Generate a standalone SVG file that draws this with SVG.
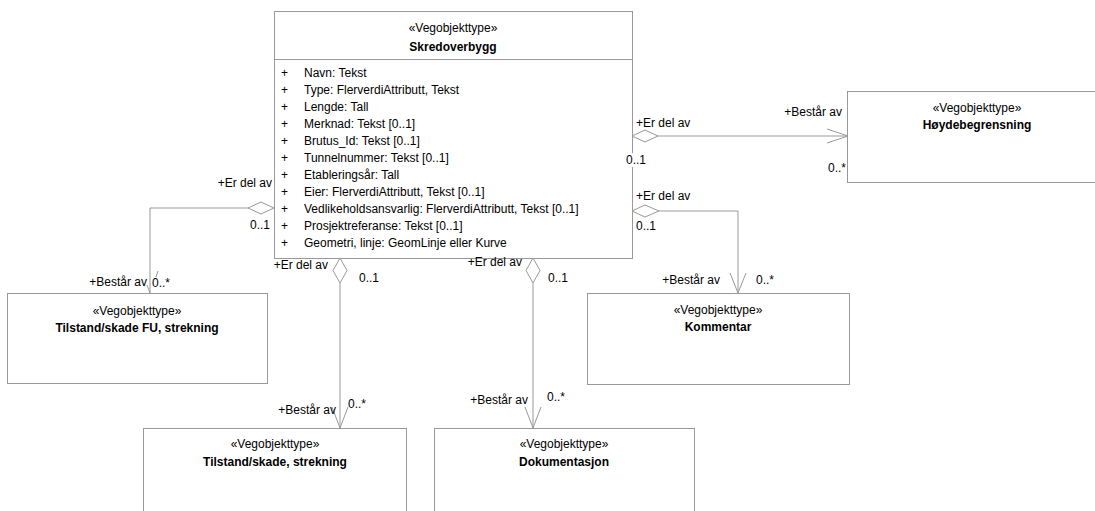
<svg xmlns="http://www.w3.org/2000/svg" width="1095" height="511" viewBox="0 0 1095 511">
<style>
text{font-family:"Liberation Sans",Arial,sans-serif;font-size:12px;fill:#000}
.c{text-anchor:middle}
.e{text-anchor:end}
.b{font-weight:bold}
.box{fill:#fff;stroke:#999;stroke-width:1}
.ln{fill:none;stroke:#999;stroke-width:1}
.dia{fill:#fff;stroke:#999;stroke-width:1}
</style>
<rect width="1095" height="511" fill="#fff"/>
<g id="skredoverbygg">
<rect class="box" x="274.5" y="11.5" width="358" height="247"/>
<line class="ln" x1="274.5" y1="59.5" x2="632.5" y2="59.5"/>
<text class="c" x="453" y="32">«Vegobjekttype»</text>
<text class="c b" x="453" y="51">Skredoverbygg</text>
<g>
<text x="281" y="77">+</text><text x="304" y="77">Navn: Tekst</text>
<text x="281" y="94">+</text><text x="304" y="94">Type: FlerverdiAttributt, Tekst</text>
<text x="281" y="111">+</text><text x="304" y="111">Lengde: Tall</text>
<text x="281" y="128">+</text><text x="304" y="128">Merknad: Tekst [0..1]</text>
<text x="281" y="145">+</text><text x="304" y="145">Brutus_Id: Tekst [0..1]</text>
<text x="281" y="162">+</text><text x="304" y="162">Tunnelnummer: Tekst [0..1]</text>
<text x="281" y="179">+</text><text x="304" y="179">Etableringsår: Tall</text>
<text x="281" y="196">+</text><text x="304" y="196">Eier: FlerverdiAttributt, Tekst [0..1]</text>
<text x="281" y="213">+</text><text x="304" y="213">Vedlikeholdsansvarlig: FlerverdiAttributt, Tekst [0..1]</text>
<text x="281" y="230">+</text><text x="304" y="230">Prosjektreferanse: Tekst [0..1]</text>
<text x="281" y="247">+</text><text x="304" y="247">Geometri, linje: GeomLinje eller Kurve</text>
</g>
</g>
<g id="hoydebegrensning">
<rect class="box" x="847.5" y="91.5" width="260" height="91"/>
<text class="c" x="977" y="112">«Vegobjekttype»</text>
<text class="c b" x="977" y="129">Høydebegrensning</text>
</g>
<g id="tilstand-fu">
<rect class="box" x="7.5" y="293.5" width="260" height="90"/>
<text class="c" x="137" y="315">«Vegobjekttype»</text>
<text class="c b" x="137" y="332">Tilstand/skade FU, strekning</text>
</g>
<g id="kommentar">
<rect class="box" x="587.5" y="293.5" width="262" height="91"/>
<text class="c" x="718" y="314">«Vegobjekttype»</text>
<text class="c b" x="718" y="331">Kommentar</text>
</g>
<g id="tilstand">
<rect class="box" x="143.5" y="428.5" width="263" height="100"/>
<text class="c" x="275" y="448">«Vegobjekttype»</text>
<text class="c b" x="275" y="466">Tilstand/skade, strekning</text>
</g>
<g id="dokumentasjon">
<rect class="box" x="434.5" y="428.5" width="260" height="100"/>
<text class="c" x="564" y="448">«Vegobjekttype»</text>
<text class="c b" x="564" y="466">Dokumentasjon</text>
</g>
<g id="connectors">
<g id="c-hoyde">
<line class="ln" x1="658" y1="136" x2="848" y2="136"/>
<polygon class="dia" points="632,136 645,130 658,136 645,142"/>
<polyline class="ln" points="827,129 848,136 827,143"/>
<text x="636" y="127">+Er del av</text>
<rect x="625" y="153" width="20" height="14" fill="#fff"/>
<text x="626" y="164">0..1</text>
<text class="e" x="842" y="116">+Består av</text>
<text class="e" x="846" y="172">0..*</text>
</g>
<g id="c-fu">
<polyline class="ln" points="248,208 150,208 150,293"/>
<polygon class="dia" points="274,208 261,202 248,208 261,214"/>
<line class="ln" x1="150" y1="293" x2="147" y2="285"/>
<line class="ln" x1="156" y1="277" x2="158" y2="271"/>
<text class="e" x="272" y="187">+Er del av</text>
<text x="250" y="229">0..1</text>
<text class="e" x="147" y="286">+Består av</text>
<text x="152" y="287">0..*</text>
</g>
<g id="c-tilstand">
<line class="ln" x1="340" y1="283" x2="340" y2="428"/>
<polygon class="dia" points="340,258 347,270.5 340,283 333,270.5"/>
<polyline class="ln" points="332,407 340,428 348,407"/>
<text class="e" x="328" y="269">+Er del av</text>
<text x="359" y="282">0..1</text>
<text class="e" x="336" y="414">+Består av</text>
<text x="348" y="408">0..*</text>
</g>
<g id="c-dok">
<line class="ln" x1="533" y1="283" x2="533" y2="428"/>
<polygon class="dia" points="533,258 540,270.5 533,283 526,270.5"/>
<polyline class="ln" points="525,407 533,428 541,407"/>
<text class="e" x="522" y="266">+Er del av</text>
<text x="548" y="282">0..1</text>
<text class="e" x="528" y="404">+Består av</text>
<text x="547" y="401">0..*</text>
</g>
<g id="c-kommentar">
<polyline class="ln" points="659,211 738,211 738,293"/>
<polygon class="dia" points="632,211 645,205 659,211 645,217"/>
<polyline class="ln" points="730,273 738,293 746,273"/>
<text x="636" y="200">+Er del av</text>
<text x="636" y="230">0..1</text>
<text class="e" x="720" y="284">+Består av</text>
<text x="756" y="284">0..*</text>
</g>
</g>
</svg>
